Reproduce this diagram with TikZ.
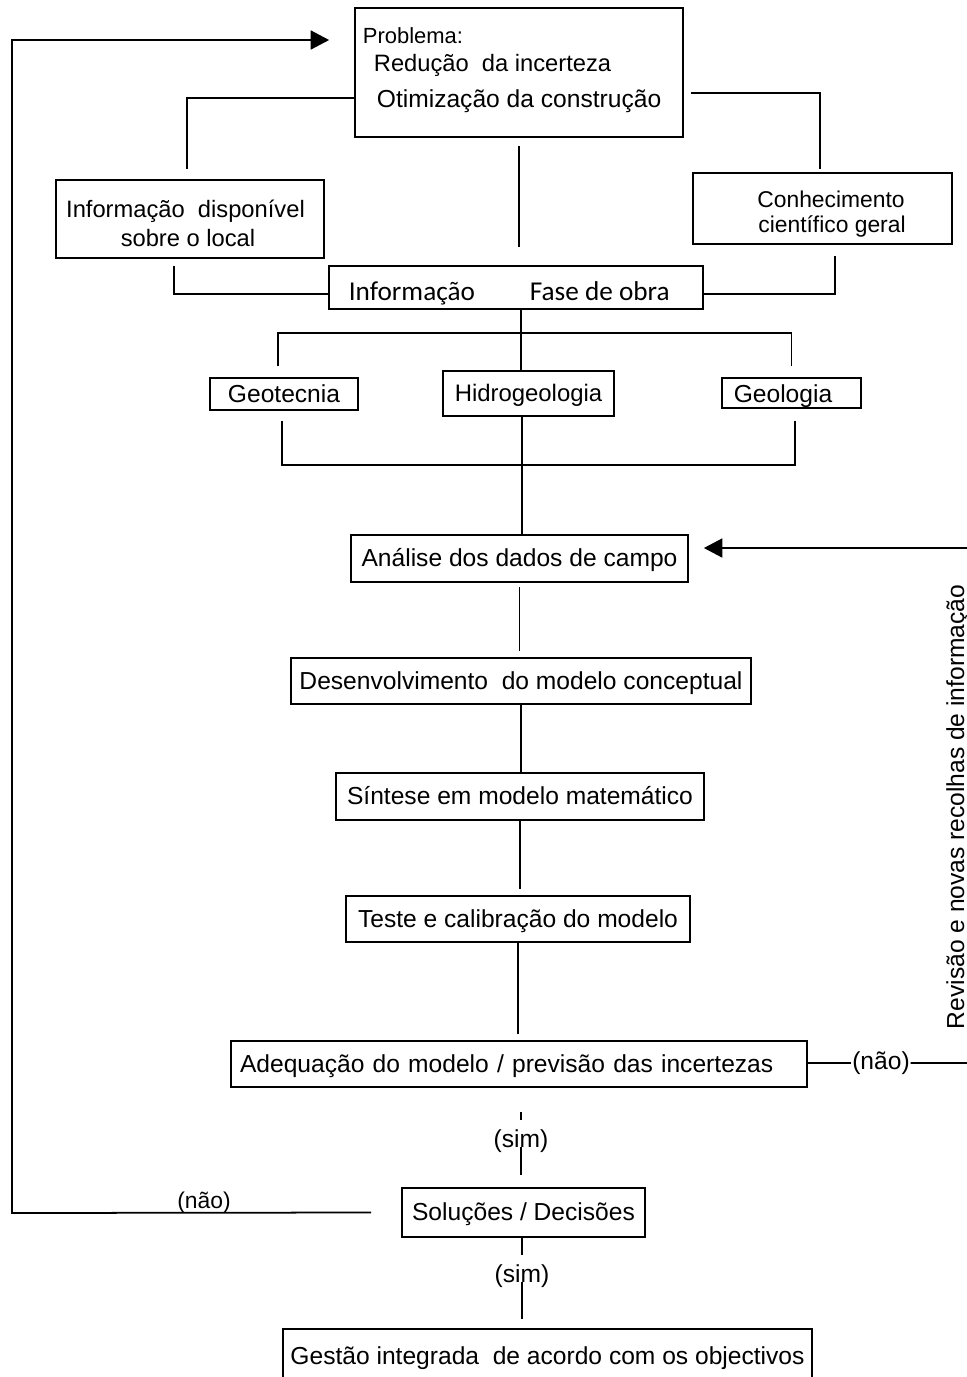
\documentclass[tikz,border=0pt]{standalone}
\usepackage{fontspec}
\setmainfont{Liberation Sans}
\newfontfamily\calibri{Carlito}
\usetikzlibrary{arrows.meta}

\begin{document}
\begin{tikzpicture}[x = 0.02cm, y = -0.02cm, line width = 1pt,
                    box/.style = {rectangle, draw, inner sep = 0pt, text height = 0.93em, text depth = 0pt,
                                  font = \fontsize{14}{16.4}\selectfont},
                    thickbox/.style = {box, line width = 1.6pt},
                    lbl/.style = {inner sep = 0pt, font = \fontsize{14}{16.4}\selectfont},
                    tip/.style = {-{Triangle[length = 0.37cm, width = 0.38cm]}}]
  \useasboundingbox (0,0) rectangle (967,1377);

  \node [box, minimum width = 6.56cm, minimum height = 2.58cm] (Prob) at (519,72.5) {};
  \node [lbl, anchor = base west, font = \fontsize{12.5}{14}\selectfont] (Prob1) at (362,43) {Problema:};
  \node [lbl, anchor = base west, font = \fontsize{13.5}{16}\selectfont] (Prob2) at (373,71) {Redução\ \ da incerteza};
  \node [lbl, anchor = base west] (Prob3) at (376,107) {Otimização da construção};

  \node [thickbox, minimum width = 5.36cm, minimum height = 1.56cm] (Info) at (190,219) {};
  \node [lbl, anchor = base, font = \fontsize{13.5}{16}\selectfont] (Info1) at (185.5,217) {Informação\ \ disponível};
  \node [lbl, anchor = base, font = \fontsize{13.5}{16}\selectfont] (Info2) at (188,246) {sobre o local};
  \node [box, minimum width = 5.18cm, minimum height = 1.42cm] (Conh) at (822.5,208.5) {};
  \node [lbl, anchor = base, font = \fontsize{13}{15}\selectfont] (Conh1) at (831,207) {Conhecimento};
  \node [lbl, anchor = base, font = \fontsize{13}{15}\selectfont] (Conh2) at (832,232) {científico geral};
  \node [box, minimum width = 7.48cm, minimum height = 0.86cm] (Fase) at (516,287.5) {};
  \node [lbl, anchor = base west, font = \calibri\fontsize{15.5}{18}\selectfont] (Fase1) at (348,300) {Informação};
  \node [lbl, anchor = base west, font = \calibri\fontsize{15.5}{18}\selectfont] (Fase2) at (529,300) {Fase de obra};

  \node [box, minimum width = 2.96cm, minimum height = 0.64cm] (Geot) at (284,394) {Geotecnia};
  \node [thickbox, minimum width = 3.42cm, minimum height = 0.90cm, font = \fontsize{13.6}{16}\selectfont] (Hidr) at (528.5,393.5) {Hidrogeologia};
  \node [box, minimum width = 2.78cm, minimum height = 0.60cm] (Geol) at (791.5,393) {};
  \node [lbl, anchor = base] (Geol1) at (783,402) {Geologia};

  \node [box, minimum width = 6.74cm, minimum height = 0.94cm] (Anal) at (519.5,558.5) {Análise dos dados de campo};
  \node [box, minimum width = 9.20cm, minimum height = 0.92cm] (Dese) at (521,681) {Desenvolvimento\ \ do modelo conceptual};
  \node [box, minimum width = 7.36cm, minimum height = 0.94cm] (Sint) at (520,796.5) {Síntese em modelo matemático};
  \node [box, minimum width = 6.88cm, minimum height = 0.92cm] (Test) at (518,919) {Teste e calibração do modelo};
  \node [box, text width = 11.16cm, inner xsep = 0.18cm, minimum height = 0.92cm, align = left] (Adeq) at (519,1064) {Adequação do modelo / previsão das incertezas};
  \node [box, minimum width = 4.86cm, minimum height = 0.98cm] (Solu) at (523.5,1212.5) {Soluções / Decisões};
  \node [box, minimum width = 10.58cm, minimum height = 1.08cm] (Gest) at (547.5,1356) {Gestão integrada\ \ de acordo com os objectivos};

  \node [lbl, anchor = base] (Sim1) at (521,1147) {(sim)};
  \node [lbl, anchor = base] (Sim2) at (522,1282) {(sim)};
  \node [lbl, anchor = base, font = \fontsize{13}{15}\selectfont] (No1) at (204,1208) {(não)};
  \node [lbl] (No2) at (881,1063) {(não)};
  \node [lbl, rotate = 90, anchor = base west] (Rev) at (964,1030) {Revisão e novas recolhas de informação};

  \coordinate (BackB) at (12,1213);
  \coordinate (BackT) at (12,40);
  \coordinate (RevB) at (972,1063);
  \coordinate (RevT) at (972,548);
  \coordinate (SplitT) at (521,333);
  \coordinate (SplitB) at (522,465);

  % ligacoes do topo
  \draw [tip] ([xshift = -0.6cm]Solu.west) -- (BackB) -- (BackT) -- ([xshift = -0.5cm]Prob.west |- BackT);
  \draw ([yshift = -0.51cm]Prob.west) -| ([xshift = -0.06cm, yshift = 0.2cm]Info.north);
  \draw ([xshift = 0.14cm, yshift = -0.41cm]Prob.east) -| ([xshift = -0.05cm, yshift = 0.06cm]Conh.north);
  \draw ([yshift = -0.16cm]Prob.south) -- ([yshift = 0.36cm]Prob.south |- Fase.north);
  \draw ([xshift = -0.32cm, yshift = -0.14cm]Info.south) |- ([yshift = -0.13cm]Fase.west);
  \draw ([xshift = 0.25cm, yshift = -0.22cm]Conh.south) |- ([yshift = -0.13cm]Fase.east);

  % tres areas
  \draw ([xshift = 0.1cm]Fase.south) -- ([xshift = 0.1cm]Fase.south |- Hidr.north);
  \draw ([xshift = -0.12cm, yshift = 0.22cm]Geot.north) |- (SplitT) -| ([yshift = 0.22cm]Geol.north);
  \draw ([xshift = -0.04cm, yshift = -0.2cm]Geot.south) |- (SplitB) -| ([xshift = 0.07cm, yshift = -0.24cm]Geol.south);
  \draw ([xshift = -0.13cm]Hidr.south) -- ([xshift = -0.13cm]Hidr.south |- Anal.north);

  % cadeia do modelo
  \draw ([yshift = -0.08cm]Anal.south) -- ([yshift = 0.12cm]Anal.south |- Dese.north);
  \draw (Dese.south) -- (Dese.south |- Sint.north);
  \draw (Sint.south) -- ([yshift = 0.12cm]Sint.south |- Test.north);
  \draw (Test.south) -- ([yshift = 0.12cm]Test.south |- Adeq.north);
  \draw ([yshift = -0.48cm]Adeq.south -| Sim1) -- ([yshift = 0.16cm]Sim1.north);
  \draw (Sim1.base) -- ([yshift = 0.24cm]Sim1.base |- Solu.north);
  \draw (Solu.south -| Sim2) -- ([yshift = 0.16cm]Sim2.north);
  \draw (Sim2.base) -- ([yshift = 0.18cm]Sim2.base |- Gest.north);

  % revisao
  \draw (Adeq.east |- No2) -- (No2.west);
  \draw [tip] (No2.east) -- (RevB) -- (RevT) -- ([xshift = 0.3cm, yshift = 0.21cm]Anal.east);
\end{tikzpicture}
\end{document}
